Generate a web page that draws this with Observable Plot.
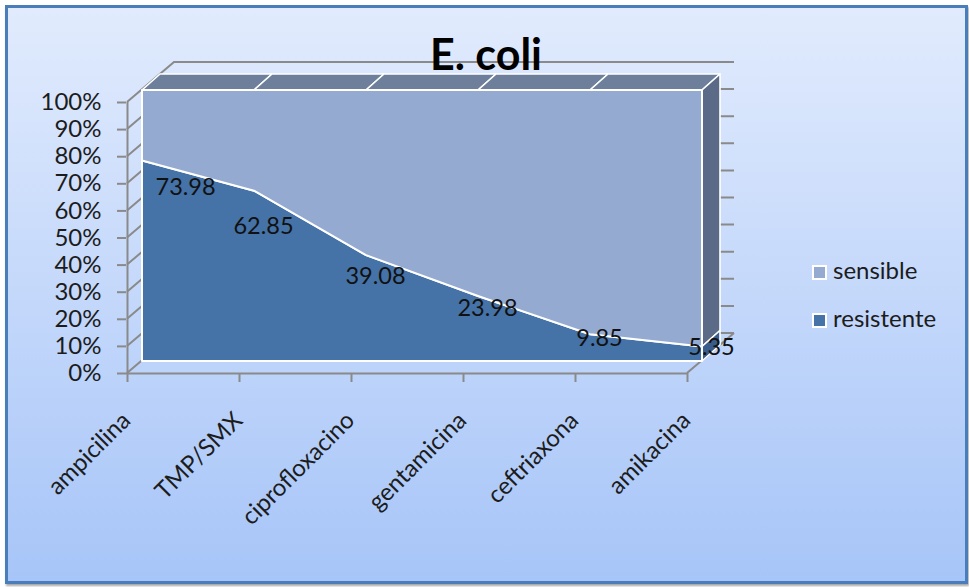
<!DOCTYPE html>
<html>
<head>
<meta charset="utf-8">
<script src="https://cdn.jsdelivr.net/npm/d3@7"></script>
<script src="https://cdn.jsdelivr.net/npm/@observablehq/plot@0.6"></script>
<style>
  body { margin: 0; background: #ffffff; }
  #chart { position: relative; width: 969px; height: 587px; font-family: Lato, "Open Sans", sans-serif; color: #1c1c1c; }
  #panel { position: absolute; left: 5px; top: 5px; width: 957px; height: 573px;
           border: 3px solid #4a7ebb; background: linear-gradient(#e1ebfd, #a7c5f8);
           box-shadow: 1px 2px 2px rgba(0,0,0,0.35); }
  #plot { position: absolute; left: 0; top: 0; }
  #title { position: absolute; left: 0; width: 972px; top: 34px; text-align: center;
           font-weight: bold; font-size: 43px; line-height: 40px; color: #000; }
  .item { position: absolute; left: 812px; font-size: 24px; line-height: 24px; white-space: nowrap; }
  .swatch { display: inline-block; width: 11px; height: 11px; border: 2px solid #fff;
            vertical-align: -1px; margin-right: 6px; }
</style>
</head>
<body>
<div id="chart">
  <div id="panel"></div>
  <div id="plot"></div>
  <div id="title">E. coli</div>
  <div id="legend"></div>
</div>
<script>
// Antibiotic susceptibility of E. coli (percent of isolates)
const categories = ["ampicilina", "TMP/SMX", "ciprofloxacino", "gentamicina", "ceftriaxona", "amikacina"];
const resistente = [73.98, 62.85, 39.08, 23.98, 9.85, 5.35];
const sensible = [26.02, 37.15, 60.92, 76.02, 90.15, 94.65];
const yTicks = [0, 10, 20, 30, 40, 50, 60, 70, 80, 90, 100];
const seriesNames = ["sensible", "resistente"];
const seriesColors = ["#95aad1", "#4572a7"];

// Pseudo-3D depth offsets in pixels: the slab spans FRONT..BACK, the walls reach WALL.
const FRONT = [15, -12], BACK = [33, -28], WALL = [47, -40];
const GRID = "#8a8a8a";

// stacked rows: resistente at the bottom, sensible on top
const rows = categories.flatMap((cat, i) => [
  {cat, serie: "resistente", y1: 0, y2: resistente[i]},
  {cat, serie: "sensible", y1: resistente[i], y2: resistente[i] + sensible[i]}
]);
const labels = categories.map((cat, i) => ({cat, value: resistente[i]}));
// labels sit inside the dark area, a little below the boundary
const labelLevel = v => v * 0.78 - 2;

// left wall, back wall and floor edge gridlines
const walls = (index, {x, y}) => {
  const g = d3.create("svg:g").attr("fill", "none").attr("stroke", GRID).attr("stroke-width", 2);
  const x0 = x(categories[0]), x1 = x(categories[categories.length - 1]);
  for (const t of yTicks) {
    g.append("path").attr("d", `M${x0},${y(t)}l${WALL[0]},${WALL[1]}H${x1 + WALL[0]}`);
  }
  g.append("path").attr("d", `M${x1},${y(0)}l${WALL[0]},${WALL[1]}`);
  return g.node();
};

// top and right faces of the slab
const slab = (index, {x, y}) => {
  const g = d3.create("svg:g").attr("stroke", "#ffffff").attr("stroke-width", 1.6).attr("stroke-linejoin", "round");
  const quad = (a, b, c, d) => `M${a}L${b}L${c}L${d}Z`;
  const P = (px, py, o) => `${px + o[0]},${py + o[1]}`;
  const n = categories.length;
  const tops = categories.map((c, i) => resistente[i] + sensible[i]);
  for (let i = 0; i < n - 1; i++) {
    const xa = x(categories[i]), xb = x(categories[i + 1]);
    const ya = y(tops[i]), yb = y(tops[i + 1]);
    g.append("path").attr("fill", "#6e7f9c")
      .attr("d", quad(P(xa, ya, FRONT), P(xb, yb, FRONT), P(xb, yb, BACK), P(xa, ya, BACK)));
  }
  const xl = x(categories[n - 1]);
  const yt = y(tops[n - 1]), yr = y(resistente[n - 1]), y0 = y(0);
  g.append("path").attr("fill", "#5b6a86")
    .attr("d", quad(P(xl, yt, FRONT), P(xl, yt, BACK), P(xl, yr, BACK), P(xl, yr, FRONT)));
  g.append("path").attr("fill", "#3a5c8a")
    .attr("d", quad(P(xl, yr, FRONT), P(xl, yr, BACK), P(xl, y0, BACK), P(xl, y0, FRONT)));
  return g.node();
};

const chart = Plot.plot({
  width: 969,
  height: 587,
  marginLeft: 126,
  marginRight: 281,
  marginTop: 102,
  marginBottom: 214,
  style: {fontFamily: "Lato, 'Open Sans', sans-serif", fontSize: "24px", color: "#1c1c1c", background: "transparent", overflow: "visible"},
  x: {type: "point", domain: categories, padding: 0},
  y: {domain: [0, 100]},
  color: {domain: seriesNames, range: seriesColors},
  marks: [
    walls,
    slab,
    Plot.areaY(rows, {x: "cat", y1: "y1", y2: "y2", z: "serie", fill: "serie", stroke: "#ffffff", strokeWidth: 2,
                      curve: "linear", dx: FRONT[0], dy: FRONT[1]}),
    Plot.ruleX([categories[0]], {y1: 0, y2: 100, stroke: GRID, strokeWidth: 2}),
    Plot.ruleY([0], {stroke: GRID, strokeWidth: 2}),
    Plot.axisY({ticks: yTicks, tickSize: 9, tickPadding: 16, tickFormat: d => `${d}%`, label: null,
                stroke: GRID, strokeWidth: 2, fill: "#1c1c1c"}),
    Plot.axisX({tickSize: 9, tickFormat: () => "", label: null, stroke: GRID, strokeWidth: 2}),
    Plot.text(categories, {x: d => d, frameAnchor: "bottom", rotate: -45, textAnchor: "end", lineAnchor: "middle",
                           dx: -1, dy: 43, fill: "#1c1c1c"}),
    Plot.text(labels.slice(1), {x: "cat", y: d => labelLevel(d.value), text: d => d.value.toFixed(2),
                                dx: 24, dy: -20, fill: "#111111", fontSize: 23.5}),
    Plot.text(labels.slice(0, 1), {x: "cat", y: d => labelLevel(d.value), text: d => d.value.toFixed(2),
                                   textAnchor: "start", dx: 28, dy: -35, fill: "#111111", fontSize: 23.5})
  ]
});
document.getElementById("plot").append(chart);

// legend
const legend = document.getElementById("legend");
seriesNames.forEach((name, i) => {
  const item = document.createElement("div");
  item.className = "item";
  item.style.top = (258 + i * 48) + "px";
  item.innerHTML = `<span class="swatch" style="background:${seriesColors[i]}"></span>${name}`;
  legend.append(item);
});
</script>
</body>
</html>
